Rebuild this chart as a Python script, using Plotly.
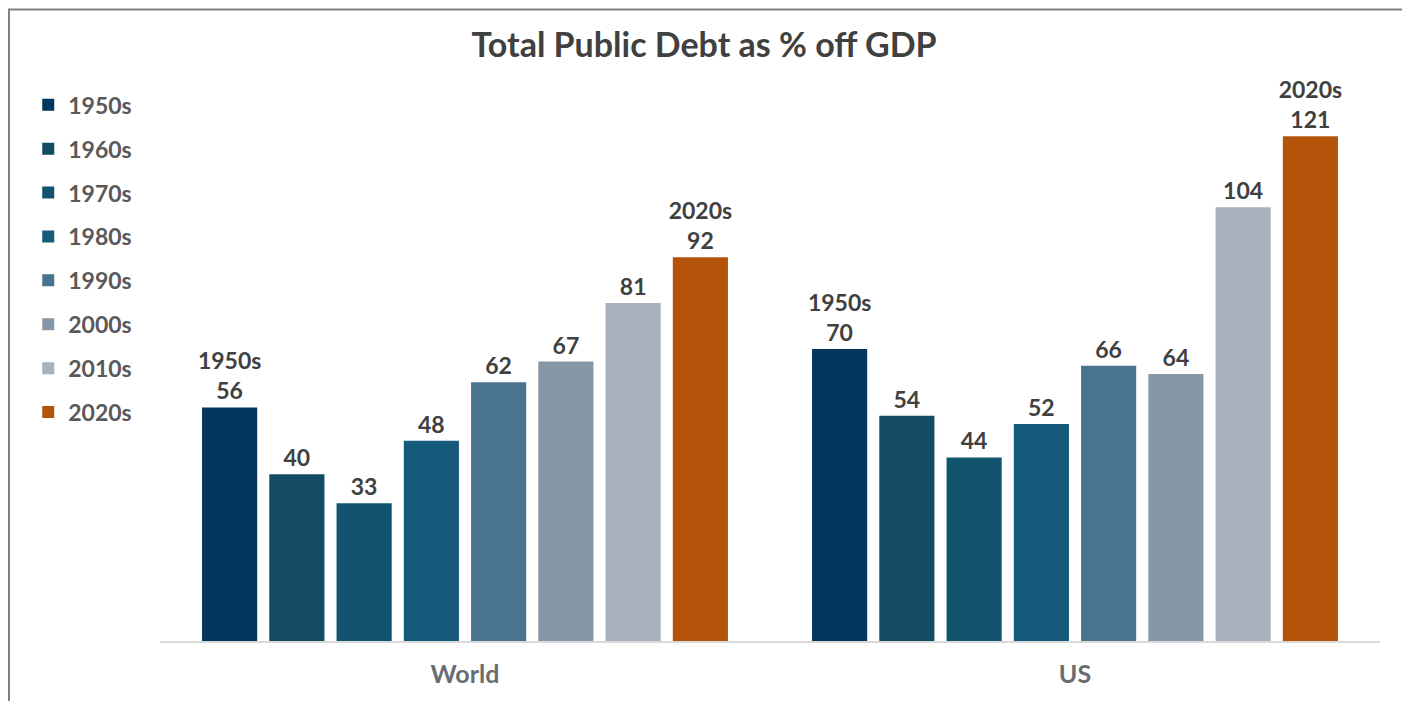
import plotly.graph_objects as go

categories = ["World", "US"]
decades = ["1950s", "1960s", "1970s", "1980s", "1990s", "2000s", "2010s", "2020s"]
world_vals = [56, 40, 33, 48, 62, 67, 81, 92]
us_vals = [70, 54, 44, 52, 66, 64, 104, 121]
colors = ["#02365C", "#124B63", "#12546E", "#155A7A", "#4A7390", "#8697A8", "#A7B2BE", "#B4540A"]

FONT = "Lato"
fig = go.Figure()
for i, d in enumerate(decades):
    vals = [world_vals[i], us_vals[i]]
    if i == 0 or i == len(decades) - 1:
        txt = [f"{d}<br>{v}" for v in vals]
    else:
        txt = [str(v) for v in vals]
    fig.add_trace(go.Bar(
        x=categories, y=vals, name=d, legendgroup=d,
        marker=dict(color=colors[i], line=dict(width=0)),
        text=txt, textposition="outside", constraintext="none",
        cliponaxis=False,
        textfont=dict(family=FONT, size=23, color="#404040", weight="bold"),
        hoverinfo="skip",
    ))

fig.update_layout(
    width=1402, height=693,
    margin=dict(l=152, r=30, t=49, b=60),
    paper_bgcolor="white", plot_bgcolor="white",
    barmode="group", bargap=0.118, bargroupgap=0.18,
    title=dict(text="<b>Total Public Debt as % off GDP</b>", x=0.4965, xanchor="center",
               y=0.947, yanchor="middle",
               font=dict(family=FONT, size=34, color="#404040")),
    legend=dict(x=-0.108, xanchor="left", y=0.955, yanchor="top",
                font=dict(family=FONT, size=23, color="#595959", weight="bold"),
                tracegroupgap=11, bgcolor="rgba(0,0,0,0)", itemclick=False),
    xaxis=dict(showline=True, linecolor="#D9D9D9", linewidth=2, ticks="",
               tickfont=dict(family=FONT, size=25, color="#696C70", weight="bold"),
               showgrid=False, ticklabelstandoff=10),
    yaxis=dict(range=[0, 140], visible=False, showgrid=False, zeroline=False),
    shapes=[dict(type="rect", xref="paper", yref="paper",
                 x0=-0.1238, x1=1.0197, y0=-0.12, y1=1.0813,
                 line=dict(color="#7F7F7F", width=2), fillcolor="rgba(0,0,0,0)")],
)

fig.write_html("out.html")
